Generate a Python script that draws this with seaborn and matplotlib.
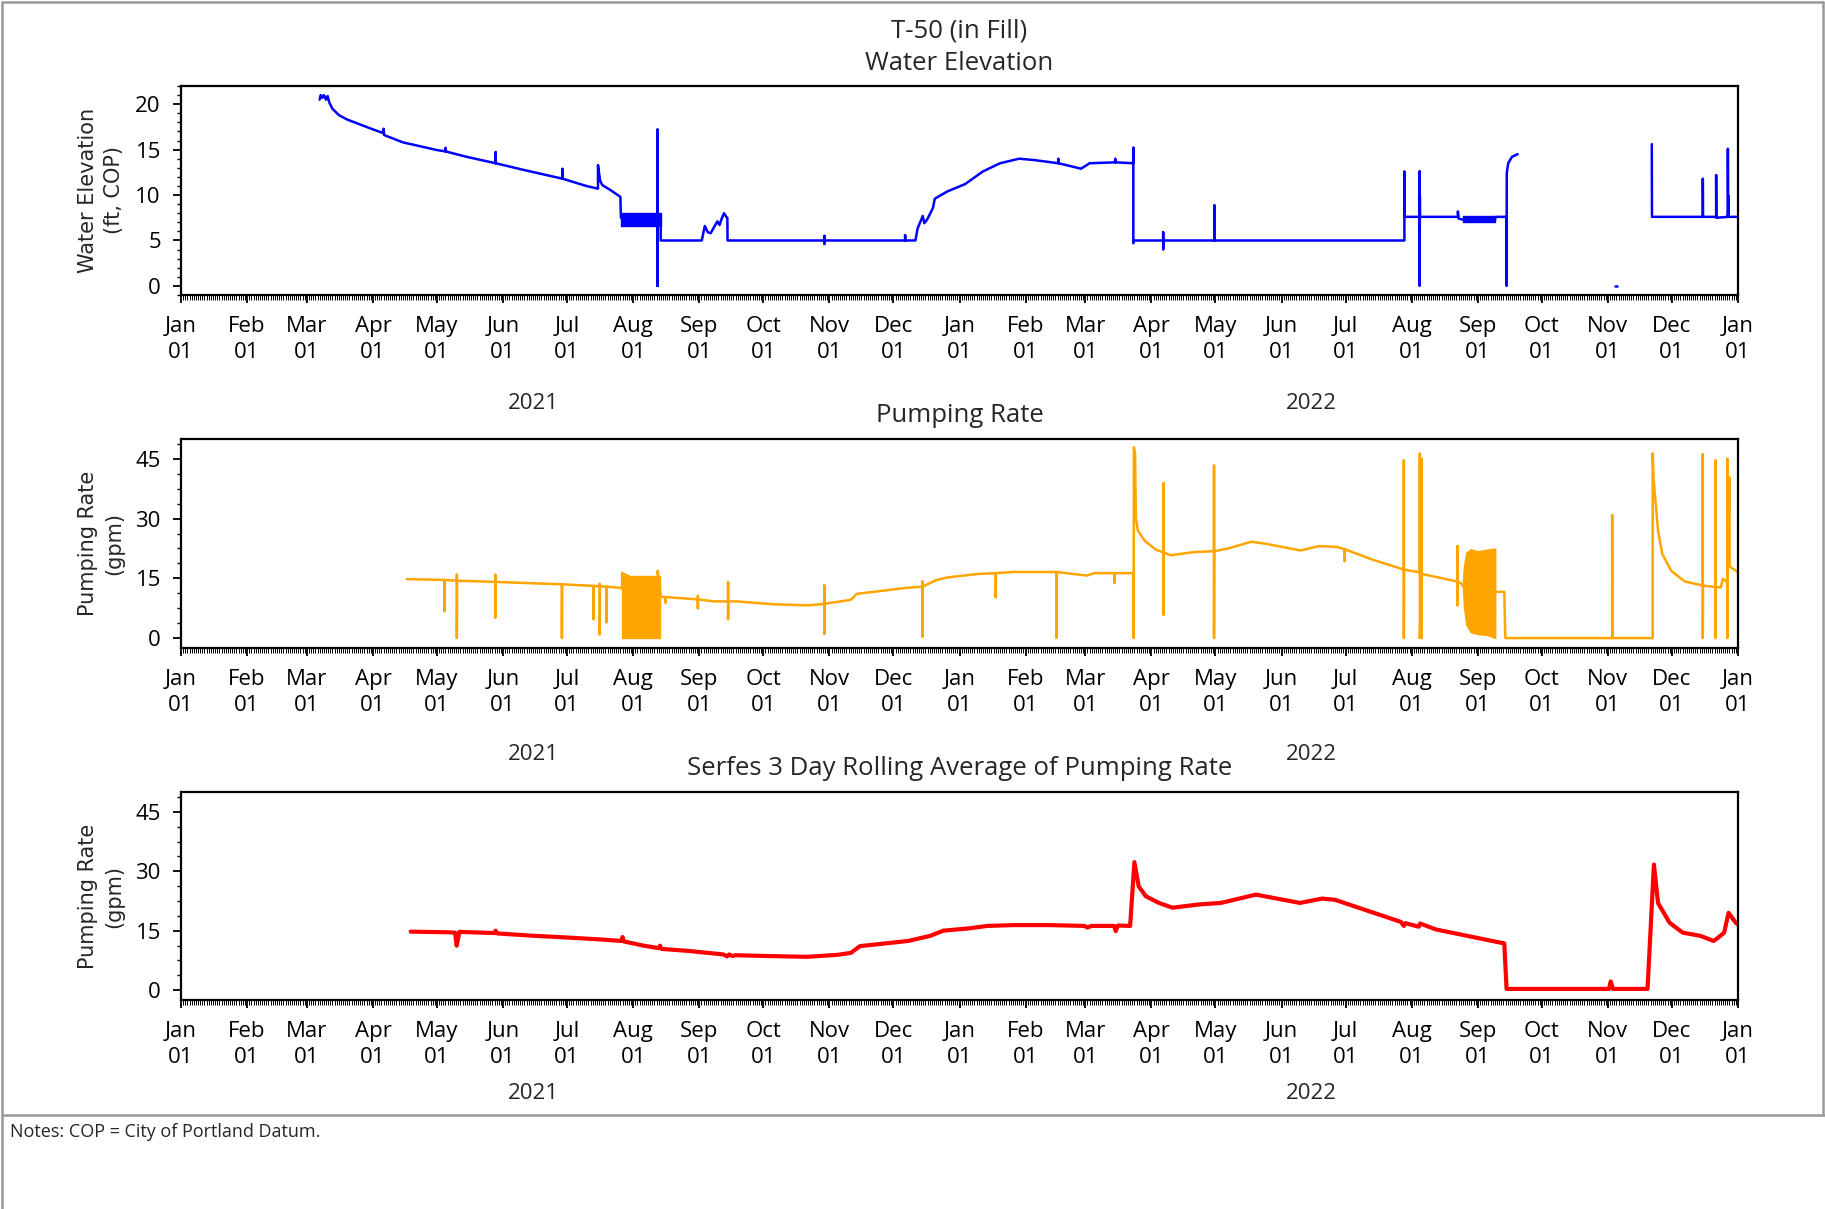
import numpy as np
import pandas as pd
import matplotlib
matplotlib.use("Agg")
import matplotlib.pyplot as plt
import matplotlib.dates as mdates
import matplotlib.transforms as mtransforms
from matplotlib.ticker import MultipleLocator, AutoMinorLocator
from matplotlib.lines import Line2D
import seaborn as sns

# ---------------- DATA ----------------
# Water elevation (ft, COP) - main continuous record
wl_a_dates = ["2021-03-07 00:00", "2021-03-07 12:00", "2021-03-08 06:00", "2021-03-09 00:00",
              "2021-03-10 00:00", "2021-03-10 18:00", "2021-03-11 12:00", "2021-03-13 00:00",
              "2021-03-16 00:00", "2021-03-20 00:00", "2021-03-24 12:00", "2021-03-30 00:00",
              "2021-04-06 00:00", "2021-04-06 00:00", "2021-04-06 06:00", "2021-04-15 00:00",
              "2021-05-01 00:00", "2021-05-05 00:00", "2021-05-05 00:00", "2021-05-05 02:00",
              "2021-05-15 00:00", "2021-05-28 12:00", "2021-05-28 12:00", "2021-05-28 14:00",
              "2021-06-10 00:00", "2021-06-28 20:00", "2021-06-28 20:00", "2021-06-28 22:00",
              "2021-07-10 00:00", "2021-07-15 12:00", "2021-07-15 12:00", "2021-07-16 12:00",
              "2021-07-17 12:00", "2021-07-21 00:00", "2021-07-26 00:00", "2021-07-26 06:00",
              "2021-08-12 10:00", "2021-08-12 10:00", "2021-08-12 10:00", "2021-08-12 10:00",
              "2021-08-13 22:00", "2021-08-13 22:00", "2021-09-02 04:00", "2021-09-03 14:00",
              "2021-09-05 00:00", "2021-09-06 08:00", "2021-09-08 00:00", "2021-09-09 12:00",
              "2021-09-10 12:00", "2021-09-11 12:00", "2021-09-12 14:00", "2021-09-13 16:00",
              "2021-09-14 04:00", "2021-09-14 06:00", "2021-10-29 16:00", "2021-10-29 16:00",
              "2021-10-29 16:00", "2021-10-29 18:00", "2021-12-06 12:00", "2021-12-06 12:00",
              "2021-12-06 14:00", "2021-12-11 08:00", "2021-12-12 08:00", "2021-12-14 18:00",
              "2021-12-15 12:00", "2021-12-16 12:00", "2021-12-17 12:00", "2021-12-19 14:00",
              "2021-12-20 10:00", "2021-12-26 08:00", "2022-01-03 14:00", "2022-01-12 00:00",
              "2022-01-20 00:00", "2022-01-29 00:00", "2022-02-05 00:00", "2022-02-16 08:00",
              "2022-02-16 08:00", "2022-02-16 10:00", "2022-02-27 00:00", "2022-03-03 00:00",
              "2022-03-15 00:00", "2022-03-15 00:00", "2022-03-15 02:00", "2022-03-23 12:00",
              "2022-03-23 12:00", "2022-03-23 12:00", "2022-03-23 14:00", "2022-04-06 12:00",
              "2022-04-06 12:00", "2022-04-06 12:00", "2022-04-06 14:00", "2022-04-30 12:00",
              "2022-04-30 12:00", "2022-04-30 14:00", "2022-07-28 14:00", "2022-07-28 14:00",
              "2022-07-28 16:00", "2022-08-04 18:00", "2022-08-04 18:00", "2022-08-04 18:00",
              "2022-08-04 20:00", "2022-08-04 22:00", "2022-08-22 16:00", "2022-08-22 16:00",
              "2022-08-23 00:00", "2022-08-25 00:00", "2022-09-09 00:00", "2022-09-09 12:00",
              "2022-09-14 12:00", "2022-09-14 12:00", "2022-09-14 14:00", "2022-09-15 06:00",
              "2022-09-17 00:00", "2022-09-19 16:00"]
wl_a_values = [20.5, 21.0, 20.7, 21.0,
               20.5, 20.9, 20.2, 19.5,
               18.8, 18.3, 17.9, 17.4,
               16.8, 17.3, 16.6, 15.8,
               14.95, 14.8, 15.2, 14.8,
               14.2, 13.5, 14.75, 13.5,
               12.8, 11.8, 12.9, 11.8,
               11.0, 10.7, 13.3, 11.6,
               11.1, 10.6, 9.8, 7.5,
               7.5, 17.2, 0.0, 7.5,
               7.5, 5.0, 5.0, 6.6,
               5.9, 5.8, 6.5, 7.1,
               6.7, 7.4, 8.0, 7.6,
               7.5, 5.0, 5.0, 5.5,
               4.6, 5.0, 5.0, 5.6,
               5.0, 5.0, 6.3, 7.7,
               6.9, 7.2, 7.6, 8.6,
               9.6, 10.4, 11.2, 12.6,
               13.5, 14.0, 13.85, 13.5,
               14.0, 13.5, 12.9, 13.5,
               13.6, 14.0, 13.6, 13.5,
               15.2, 4.7, 5.0, 5.0,
               5.9, 4.0, 5.0, 5.0,
               8.9, 5.0, 5.0, 12.6,
               7.6, 7.6, 12.6, 0.0,
               9.9, 7.6, 7.6, 8.2,
               7.4, 7.3, 7.3, 7.6,
               7.6, 0.0, 12.4, 13.5,
               14.2, 14.5]
# isolated reading
wl_b_dates = ["2022-11-04 06:00", "2022-11-05 06:00"]
wl_b_values = [0.0, 0.0]
# late 2022 record
wl_c_dates = ["2022-11-21 14:00", "2022-11-21 16:00", "2022-12-15 12:00", "2022-12-15 12:00",
              "2022-12-15 14:00", "2022-12-21 18:00", "2022-12-21 18:00", "2022-12-21 20:00",
              "2022-12-27 06:00", "2022-12-27 06:00", "2022-12-27 08:00", "2022-12-27 14:00",
              "2022-12-27 16:00", "2022-12-31 18:00"]
wl_c_values = [15.6, 7.6, 7.6, 11.8,
               7.6, 7.6, 12.2, 7.5,
               7.6, 15.1, 7.6, 9.9,
               7.6, 7.6]
# oscillating-logger envelopes (water elevation)
wl_band1_dates = ["2021-07-26 06:00", "2021-08-13 22:00"]
wl_band1_low = [6.6, 6.6]
wl_band1_high = [8.05, 8.05]
wl_band2_dates = ["2022-08-25 00:00", "2022-09-09 00:00"]
wl_band2_low = [7.0, 7.0]
wl_band2_high = [7.7, 7.7]

# Pumping rate (gpm)
pr_dates = ["2021-04-16 20:00", "2021-05-04 14:00", "2021-05-04 14:00", "2021-05-04 16:00",
            "2021-05-10 08:00", "2021-05-10 08:00", "2021-05-10 08:00", "2021-05-10 10:00",
            "2021-05-28 08:00", "2021-05-28 08:00", "2021-05-28 08:00", "2021-05-28 10:00",
            "2021-06-28 14:00", "2021-06-28 14:00", "2021-06-28 16:00", "2021-07-13 08:00",
            "2021-07-13 08:00", "2021-07-13 10:00", "2021-07-16 08:00", "2021-07-16 08:00",
            "2021-07-16 08:00", "2021-07-16 10:00", "2021-07-19 14:00", "2021-07-19 14:00",
            "2021-07-19 16:00", "2021-07-26 08:00", "2021-07-26 20:00", "2021-07-26 20:00",
            "2021-08-12 12:00", "2021-08-12 12:00", "2021-08-13 14:00", "2021-08-14 00:00",
            "2021-08-16 04:00", "2021-08-16 04:00", "2021-08-16 06:00", "2021-08-28 20:00",
            "2021-08-31 08:00", "2021-08-31 08:00", "2021-08-31 08:00", "2021-08-31 10:00",
            "2021-09-08 04:00", "2021-09-14 12:00", "2021-09-14 12:00", "2021-09-14 12:00",
            "2021-09-14 14:00", "2021-09-18 16:00", "2021-10-05 12:00", "2021-10-22 04:00",
            "2021-10-29 14:00", "2021-10-29 14:00", "2021-10-29 14:00", "2021-10-29 16:00",
            "2021-11-11 00:00", "2021-11-13 20:00", "2021-12-07 00:00", "2021-12-14 14:00",
            "2021-12-14 14:00", "2021-12-14 14:00", "2021-12-14 16:00", "2021-12-20 20:00",
            "2021-12-26 00:00", "2022-01-09 14:00", "2022-01-18 00:00", "2022-01-18 00:00",
            "2022-01-18 02:00", "2022-01-26 12:00", "2022-02-15 10:00", "2022-02-15 10:00",
            "2022-02-15 12:00", "2022-03-01 16:00", "2022-03-05 00:00", "2022-03-14 14:00",
            "2022-03-14 14:00", "2022-03-14 16:00", "2022-03-22 12:00", "2022-03-23 16:00",
            "2022-03-23 16:00", "2022-03-23 18:00", "2022-03-24 08:00", "2022-03-24 16:00",
            "2022-03-25 16:00", "2022-03-28 22:00", "2022-04-03 02:00", "2022-04-06 16:00",
            "2022-04-06 16:00", "2022-04-06 16:00", "2022-04-06 18:00", "2022-04-10 00:00",
            "2022-04-20 22:00", "2022-04-30 08:00", "2022-04-30 08:00", "2022-04-30 08:00",
            "2022-04-30 10:00", "2022-05-07 14:00", "2022-05-18 00:00", "2022-05-24 08:00",
            "2022-06-10 00:00", "2022-06-18 12:00", "2022-06-26 22:00", "2022-06-30 14:00",
            "2022-06-30 14:00", "2022-06-30 16:00", "2022-07-13 14:00", "2022-07-28 08:00",
            "2022-07-28 08:00", "2022-07-28 08:00", "2022-07-28 10:00", "2022-08-04 20:00",
            "2022-08-04 20:00", "2022-08-04 20:00", "2022-08-05 16:00", "2022-08-05 16:00",
            "2022-08-05 16:00", "2022-08-05 18:00", "2022-08-22 10:00", "2022-08-22 10:00",
            "2022-08-22 10:00", "2022-08-22 12:00", "2022-08-24 12:00", "2022-08-25 00:00",
            "2022-09-09 04:00", "2022-09-13 10:00", "2022-09-13 22:00", "2022-11-03 00:00",
            "2022-11-03 00:00", "2022-11-03 02:00", "2022-11-22 00:00", "2022-11-22 00:00",
            "2022-11-22 10:00", "2022-11-24 12:00", "2022-11-26 14:00", "2022-11-30 20:00",
            "2022-12-07 02:00", "2022-12-15 12:00", "2022-12-15 12:00", "2022-12-15 12:00",
            "2022-12-15 14:00", "2022-12-21 10:00", "2022-12-21 10:00", "2022-12-21 10:00",
            "2022-12-21 12:00", "2022-12-23 22:00", "2022-12-24 22:00", "2022-12-26 12:00",
            "2022-12-27 00:00", "2022-12-27 00:00", "2022-12-27 00:00", "2022-12-27 02:00",
            "2022-12-28 00:00", "2022-12-28 02:00", "2022-12-29 02:00", "2022-12-31 20:00"]
pr_values = [14.8, 14.6, 6.7, 14.6,
             14.4, 15.9, 0.0, 14.4,
             14.1, 15.9, 5.1, 14.1,
             13.5, 0.0, 13.5, 13.1,
             4.7, 13.1, 13.0, 13.6,
             0.9, 13.0, 12.9, 3.9,
             12.9, 12.6, 12.4, 16.3,
             12.0, 16.9, 12.0, 10.4,
             10.3, 8.8, 10.3, 9.8,
             9.7, 7.5, 10.6, 9.7,
             9.2, 9.2, 14.0, 4.7,
             9.2, 9.2, 8.5, 8.2,
             8.6, 13.2, 1.0, 8.6,
             9.6, 11.1, 12.6, 12.9,
             14.2, 0.3, 12.9, 14.5,
             15.2, 16.1, 16.3, 10.2,
             16.3, 16.6, 16.6, 0.0,
             16.6, 15.7, 16.3, 16.3,
             13.8, 16.3, 16.3, 16.3,
             0.0, 47.9, 46.3, 30.2,
             26.9, 24.4, 22.2, 21.5,
             38.9, 5.8, 21.5, 20.8,
             21.6, 21.8, 43.3, 0.0,
             21.8, 22.6, 24.2, 23.7,
             22.0, 23.1, 22.9, 22.3,
             19.3, 22.3, 19.7, 17.2,
             44.6, 0.0, 17.2, 16.5,
             46.3, 0.0, 16.1, 45.0,
             0.0, 16.1, 14.2, 23.1,
             8.2, 14.2, 13.6, 13.0,
             11.6, 11.6, 0.0, 0.0,
             30.9, 0.0, 0.0, 46.4,
             40.0, 26.9, 21.0, 16.8,
             14.2, 13.2, 46.1, 0.0,
             13.2, 12.8, 44.6, 0.0,
             12.8, 12.7, 14.9, 14.2,
             14.2, 45.0, 0.0, 14.2,
             40.3, 18.0, 17.6, 16.6]
# oscillating-pump envelopes (pumping rate)
pr_band1_dates = ["2021-07-26 20:00", "2021-08-13 14:00"]
pr_band1_low = [0.0, 0.0]
pr_band1_high = [15.6, 15.6]
pr_band2_dates = ["2022-08-25 00:00", "2022-08-25 12:00", "2022-08-26 14:00", "2022-08-28 16:00",
                  "2022-09-01 00:00", "2022-09-05 00:00", "2022-09-08 00:00", "2022-09-09 04:00"]
pr_band2_low = [13.0, 8.0, 3.3, 1.5, 1.0, 0.8, 0.3, 0.0]
pr_band2_high = [14.0, 18.0, 21.5, 22.3, 21.8, 22.2, 22.4, 22.5]

# Serfes 3-day rolling average of pumping rate (gpm)
ra_dates = ["2021-04-18 16:00", "2021-05-06 00:00", "2021-05-09 12:00", "2021-05-10 06:00",
            "2021-05-11 12:00", "2021-05-27 20:00", "2021-05-28 12:00", "2021-05-29 06:00",
            "2021-06-15 14:00", "2021-06-30 00:00", "2021-07-16 10:00", "2021-07-26 12:00",
            "2021-07-27 00:00", "2021-07-27 12:00", "2021-08-06 00:00", "2021-08-13 00:00",
            "2021-08-13 14:00", "2021-08-14 06:00", "2021-08-26 16:00", "2021-09-12 06:00",
            "2021-09-14 00:00", "2021-09-15 00:00", "2021-09-16 12:00", "2021-09-18 00:00",
            "2021-10-02 22:00", "2021-10-21 10:00", "2021-11-04 22:00", "2021-11-11 02:00",
            "2021-11-15 08:00", "2021-12-07 22:00", "2021-12-18 08:00", "2021-12-24 10:00",
            "2022-01-05 20:00", "2022-01-14 00:00", "2022-01-26 10:00", "2022-02-12 00:00",
            "2022-02-28 12:00", "2022-03-02 00:00", "2022-03-04 00:00", "2022-03-14 12:00",
            "2022-03-15 06:00", "2022-03-16 06:00", "2022-03-22 00:00", "2022-03-24 00:00",
            "2022-03-26 00:00", "2022-03-29 08:00", "2022-04-04 12:00", "2022-04-10 20:00",
            "2022-04-23 00:00", "2022-05-03 12:00", "2022-05-20 00:00", "2022-06-09 14:00",
            "2022-06-20 00:00", "2022-06-26 00:00", "2022-07-27 00:00", "2022-07-28 08:00",
            "2022-07-29 00:00", "2022-08-04 08:00", "2022-08-05 00:00", "2022-08-12 10:00",
            "2022-09-10 12:00", "2022-09-13 10:00", "2022-09-14 12:00", "2022-11-01 12:00",
            "2022-11-02 08:00", "2022-11-03 08:00", "2022-11-19 14:00", "2022-11-22 14:00",
            "2022-11-24 12:00", "2022-11-29 22:00", "2022-12-06 02:00", "2022-12-14 08:00",
            "2022-12-20 14:00", "2022-12-22 14:00", "2022-12-25 12:00", "2022-12-27 14:00",
            "2022-12-30 22:00", "2022-12-31 20:00"]
ra_values = [14.75, 14.6, 14.5, 11.2,
             14.7, 14.4, 15.0, 14.3,
             13.7, 13.3, 12.8, 12.4,
             13.4, 12.3, 11.2, 10.6,
             11.2, 10.4, 9.9, 9.0,
             8.5, 9.0, 8.6, 8.8,
             8.6, 8.4, 8.9, 9.4,
             11.1, 12.4, 13.7, 15.0,
             15.6, 16.2, 16.4, 16.4,
             16.2, 15.8, 16.2, 16.2,
             14.9, 16.3, 16.2, 32.3,
             26.2, 23.7, 22.0, 20.8,
             21.6, 22.0, 24.1, 22.0,
             23.1, 22.8, 17.2, 16.2,
             16.9, 16.0, 16.8, 15.3,
             12.1, 11.8, 0.3, 0.3,
             2.2, 0.3, 0.3, 31.7,
             22.0, 17.0, 14.5, 13.7,
             12.4, 13.2, 14.5, 19.5,
             17.0, 16.6]

x_start, x_end = "2021-01-01", "2023-01-01"
year_labels = ["2021", "2022"]
year_label_dates = ["2021-06-15", "2022-06-15"]
titles = ["Water Elevation", "Pumping Rate", "Serfes 3 Day Rolling Average of Pumping Rate"]
suptitle = "T-50 (in Fill)"
ylabels = ["Water Elevation\n(ft, COP)", "Pumping Rate\n(gpm)", "Pumping Rate\n(gpm)"]
note_text = "Notes: COP = City of Portland Datum."

# ---------------- STYLE ----------------
sns.set_theme(style="ticks")
plt.rcParams["font.family"] = ["Open Sans", "DejaVu Sans"]
plt.rcParams["axes.linewidth"] = 1.6

FW, FH = 1825, 1209
fig = plt.figure(figsize=(FW / 100, FH / 100), dpi=100)
fig.patch.set_facecolor("white")

L = 181 / FW
W = (1738 - 181) / FW


def rect(top, bottom):
    return [L, 1 - bottom / FH, W, (bottom - top) / FH]


ax1 = fig.add_axes(rect(86, 295))
ax2 = fig.add_axes(rect(439, 648))
ax3 = fig.add_axes(rect(792, 1000))
axes = [ax1, ax2, ax3]


def frame(segments):
    parts = []
    for i, (d, v) in enumerate(segments):
        parts.append(pd.DataFrame({"date": pd.to_datetime(d), "value": v, "seg": i}))
    return pd.concat(parts, ignore_index=True)


wl_df = frame([(wl_a_dates, wl_a_values), (wl_b_dates, wl_b_values), (wl_c_dates, wl_c_values)])
pr_df = frame([(pr_dates, pr_values)])
ra_df = frame([(ra_dates, ra_values)])

BLUE, ORANGE, RED = "#0000FF", "#FFA500", "#FF0000"

sns.lineplot(data=wl_df, x="date", y="value", units="seg", estimator=None, sort=False,
             color=BLUE, lw=1.8, ax=ax1, legend=False)
for bd, lo, hi in [(wl_band1_dates, wl_band1_low, wl_band1_high),
                   (wl_band2_dates, wl_band2_low, wl_band2_high)]:
    ax1.fill_between(pd.to_datetime(bd), lo, hi, color=BLUE, lw=1.0, edgecolor=BLUE)

sns.lineplot(data=pr_df, x="date", y="value", units="seg", estimator=None, sort=False,
             color=ORANGE, lw=1.8, ax=ax2, legend=False)
for bd, lo, hi in [(pr_band1_dates, pr_band1_low, pr_band1_high),
                   (pr_band2_dates, pr_band2_low, pr_band2_high)]:
    ax2.fill_between(pd.to_datetime(bd), lo, hi, color=ORANGE, lw=1.0, edgecolor=ORANGE)

sns.lineplot(data=ra_df, x="date", y="value", units="seg", estimator=None, sort=False,
             color=RED, lw=3.0, ax=ax3, legend=False)

ax1.set_ylim(-1, 22)
ax1.yaxis.set_major_locator(MultipleLocator(5))
ax1.yaxis.set_minor_locator(AutoMinorLocator(5))
for ax in (ax2, ax3):
    ax.set_ylim(-2.5, 50)
    ax.yaxis.set_major_locator(MultipleLocator(15))
    ax.yaxis.set_minor_locator(AutoMinorLocator(4))

title_baselines = [70, 422, 775]
year_baselines = [409, 760, 1099]
for ax, ttl, yl, tb, yb in zip(axes, titles, ylabels, title_baselines, year_baselines):
    ax.set_xlim(pd.Timestamp(x_start), pd.Timestamp(x_end))
    ax.xaxis.set_major_locator(mdates.MonthLocator())
    ax.xaxis.set_major_formatter(mdates.DateFormatter("%b\n%d"))
    ax.xaxis.set_minor_locator(mdates.DayLocator())
    ax.set_xlabel("")
    ax.set_ylabel(yl, fontsize=15, family="DejaVu Sans", linespacing=1.38)
    ax.yaxis.set_label_coords(-0.0365, 0.5)
    ax.tick_params(axis="x", which="major", length=6, width=1.3, labelsize=16, pad=9,
                   direction="out", colors="black")
    ax.tick_params(axis="x", which="minor", length=3.5, width=0.7, direction="out", color="black")
    ax.tick_params(axis="y", which="major", length=6, width=1.3, labelsize=16, pad=8.5,
                   direction="out", colors="black")
    ax.tick_params(axis="y", which="minor", length=3, width=1.0, direction="out", color="black")
    for s in ax.spines.values():
        s.set_color("black")
        s.set_linewidth(1.6)
    ax.set_facecolor("white")
    ax.grid(False)
    for lbl in ax.get_xticklabels():
        lbl.set_linespacing(1.3)
    fig.text(959.5 / FW, 1 - tb / FH, ttl, ha="center", va="baseline", fontsize=18.5)
    trans = mtransforms.blended_transform_factory(ax.transData, fig.transFigure)
    for lab, ld in zip(year_labels, year_label_dates):
        ax.text(mdates.date2num(pd.Timestamp(ld)), 1 - yb / FH, lab, transform=trans,
                ha="center", va="baseline", fontsize=16)

fig.text(959.5 / FW, 1 - 38 / FH, suptitle, ha="center", va="baseline", fontsize=18.5)
fig.text(10 / FW, 1 - 1137 / FH, note_text, ha="left", va="baseline", fontsize=13)

# frame lines
GRAY = "#999999"
def fig_line(x0, y0, x1, y1):
    fig.add_artist(Line2D([x0 / FW, x1 / FW], [1 - y0 / FH, 1 - y1 / FH],
                          transform=fig.transFigure, color=GRAY, lw=1.8))
fig_line(2, 2, 1823, 2)
fig_line(2, 2, 2, FH)
fig_line(1823, 2, 1823, 1115)
fig_line(2, 1115, FW, 1115)

fig.savefig("out.png", dpi=100, facecolor="white")
